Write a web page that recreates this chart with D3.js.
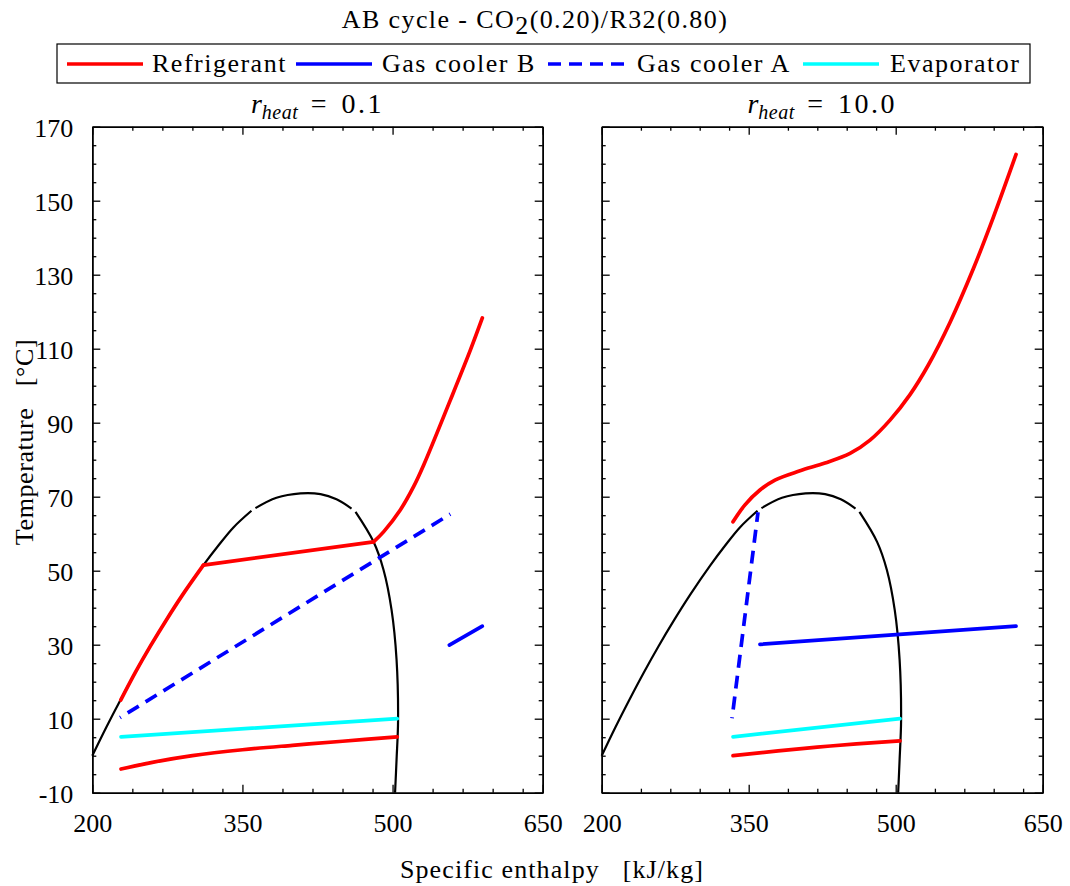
<!DOCTYPE html>
<html><head><meta charset="utf-8">
<script src="https://cdn.jsdelivr.net/npm/d3@7"></script>
<style>
body{margin:0;background:#fff;}
text{font-family:"Liberation Serif","Times New Roman",serif;fill:#000;}
</style></head>
<body>
<svg id="chart" width="1070" height="886"></svg>
<script>
// ---------- data ----------
const xMajorTicks = [200, 350, 500, 650];
const xMinorTicks = [240, 270, 300, 330, 390, 420, 450, 480, 540, 570, 600, 630];
const yMajorTicks = [-10, 10, 30, 50, 70, 90, 110, 130, 150, 170];
const yMinorTicks = [-5, 0, 5, 15, 20, 25, 35, 40, 45, 55, 60, 65, 75, 80, 85, 95, 100, 105, 115, 120, 125, 135, 140, 145, 155, 160, 165];

// saturation dome (drawn in three pieces)
const domeAH = [200, 214, 228, 243, 258, 274, 290, 311, 326, 341, 359];
const domeAT = [0, 7.7, 15, 22.5, 29.6, 36.7, 43.4, 51.5, 56.8, 61.7, 66.2];
const domeBH = [363, 384, 408, 428, 444, 459];
const domeBT = [66.9, 69.7, 70.9, 70.7, 69.3, 66.8];
const domeCH = [463, 481, 491, 499, 504, 505.5, 504, 502.5];
const domeCT = [65.9, 57.8, 50.2, 39.4, 25.9, 9.6, -1, -10];

// r_heat = 0.1
const l_refSubH = [228.4, 243, 258, 274, 290, 311];
const l_refSubT = [15, 22.5, 29.6, 36.7, 43.4, 51.5];
const l_refTwoH = [311, 481];
const l_refTwoT = [51.5, 57.8];
const l_refSupH = [481, 491, 507.7, 521, 531, 557.7, 577.7, 589.7];
const l_refSupT = [57.8, 60.5, 66.4, 72.7, 78.5, 96.1, 109.6, 118.3];
const l_refLowH = [228.7, 260, 300, 350, 400, 450, 504.7];
const l_refLowT = [-3.6, -1.8, 0, 1.6, 2.8, 3.9, 5.1];
const l_gcBH = [556.7, 589.7];
const l_gcBT = [29.9, 35];
const l_gcAH = [227.7, 557.7];
const l_gcAT = [10.3, 65.3];
const l_evapH = [228.7, 504.7];
const l_evapT = [5.1, 10];

// r_heat = 10.0
const r_refHighH = [334, 346.2, 361.5, 376.8, 402.4, 427.9, 453.4, 473.8, 494.2, 514.6, 533.3, 555.4, 579.2, 599.6, 622.8];
const r_refHighT = [63.2, 67.8, 71.8, 74.5, 77, 79.1, 81.7, 85.3, 90.7, 97.6, 105.6, 117.1, 131.6, 145.5, 162.5];
const r_refLowH = [334, 380, 420, 460, 504.4];
const r_refLowT = [0, 1.3, 2.3, 3.2, 4];
const r_gcBH = [361.5, 622.8];
const r_gcBT = [30.1, 35];
const r_gcAH = [333, 359.5];
const r_gcAT = [10.1, 65.8];
const r_evapH = [334, 504.4];
const r_evapT = [5.1, 10];

const legendLabels = ["Refrigerant", "Gas cooler B", "Gas cooler A", "Evaporator"];

// ---------- drawing ----------
const svg = d3.select("#chart");
const RED = "#ff0000", BLUE = "#0000ff", CYAN = "#00ffff";
const DASH = "13,8";
const y = d3.scaleLinear([-10, 170], [792.7, 126.7]);
const panels = [
  {x: d3.scaleLinear([200, 650], [92.3, 542.7]), title: "0.1", labels: true,
   series: [
     {h: l_evapH, t: l_evapT, c: CYAN},
     {h: l_gcAH, t: l_gcAT, c: BLUE, dash: true},
     {h: l_gcBH, t: l_gcBT, c: BLUE},
     {h: l_refSubH, t: l_refSubT, c: RED},
     {h: l_refTwoH, t: l_refTwoT, c: RED},
     {h: l_refSupH, t: l_refSupT, c: RED},
     {h: l_refLowH, t: l_refLowT, c: RED}
   ]},
  {x: d3.scaleLinear([200, 650], [601.7, 1042.7]), title: "10.0", labels: false,
   series: [
     {h: r_evapH, t: r_evapT, c: CYAN},
     {h: r_gcAH, t: r_gcAT, c: BLUE, dash: true},
     {h: r_gcBH, t: r_gcBT, c: BLUE},
     {h: r_refHighH, t: r_refHighT, c: RED},
     {h: r_refLowH, t: r_refLowT, c: RED}
   ]}
];

function zip(h, t) { return h.map((v, i) => [v, t[i]]); }
const fmt = d => String(d);

panels.forEach(p => {
  const x = p.x;
  const [x0, x1] = x.range();
  const [y0, y1] = y.range();
  const g = svg.append("g");

  const line = d3.line().x(d => x(d[0])).y(d => y(d[1])).curve(d3.curveCatmullRom.alpha(0.5));

  // dome
  [[domeAH, domeAT], [domeBH, domeBT], [domeCH, domeCT]].forEach(([h, t]) => {
    g.append("path").attr("d", line(zip(h, t)))
      .attr("fill", "none").attr("stroke", "#000").attr("stroke-width", 2.2);
  });

  p.series.forEach(s => {
    g.append("path").attr("d", line(zip(s.h, s.t)))
      .attr("fill", "none").attr("stroke", s.c).attr("stroke-width", 3.7)
      .attr("stroke-linecap", s.dash ? "butt" : "round")
      .attr("stroke-linejoin", "round")
      .attr("stroke-dasharray", s.dash ? DASH : null)
      .attr("stroke-dashoffset", s.dash ? 12 : null);
  });

  // axes
  const styleAxis = sel => {
    sel.select(".domain").attr("stroke", "#000").attr("stroke-width", 1.5);
    sel.selectAll(".tick line").attr("stroke", "#000").attr("stroke-width", 1.3);
    sel.selectAll("text").style("font-family", "'Liberation Serif', serif").style("font-size", "26px").attr("fill", "#000");
  };
  g.append("g").attr("transform", `translate(0,${y0})`)
    .call(d3.axisBottom(x).tickValues(xMajorTicks).tickSizeInner(-8).tickSizeOuter(0).tickPadding(21).tickFormat(fmt))
    .call(styleAxis);
  g.append("g").attr("transform", `translate(0,${y0})`)
    .call(d3.axisBottom(x).tickValues(xMinorTicks).tickSizeInner(-4).tickSizeOuter(0).tickFormat("")).call(styleAxis);
  g.append("g").attr("transform", `translate(0,${y1})`)
    .call(d3.axisTop(x).tickValues(xMajorTicks).tickSizeInner(-8).tickSizeOuter(0).tickFormat("")).call(styleAxis);
  g.append("g").attr("transform", `translate(0,${y1})`)
    .call(d3.axisTop(x).tickValues(xMinorTicks).tickSizeInner(-4).tickSizeOuter(0).tickFormat("")).call(styleAxis);
  const left = g.append("g").attr("transform", `translate(${x0},0)`)
    .call(d3.axisLeft(y).tickValues(yMajorTicks).tickSizeInner(-8).tickSizeOuter(0).tickPadding(19)
      .tickFormat(p.labels ? fmt : ""));
  styleAxis(left);
  left.selectAll("text").attr("dy", "0.36em");
  g.append("g").attr("transform", `translate(${x0},0)`)
    .call(d3.axisLeft(y).tickValues(yMinorTicks).tickSizeInner(-4).tickSizeOuter(0).tickFormat("")).call(styleAxis);
  g.append("g").attr("transform", `translate(${x1},0)`)
    .call(d3.axisRight(y).tickValues(yMajorTicks).tickSizeInner(-8).tickSizeOuter(0).tickFormat("")).call(styleAxis);
  g.append("g").attr("transform", `translate(${x1},0)`)
    .call(d3.axisRight(y).tickValues(yMinorTicks).tickSizeInner(-4).tickSizeOuter(0).tickFormat("")).call(styleAxis);

  // subplot title
  const tt = g.append("text").attr("x", (x0 + x1) / 2).attr("y", 113)
    .attr("text-anchor", "middle").style("font-size", "28px");
  tt.append("tspan").text("r").style("font-style", "italic");
  tt.append("tspan").text("heat").style("font-style", "italic").style("font-size", "20px")
    .style("letter-spacing", "0.5px").attr("dy", 6);
  tt.append("tspan").text(" = " + p.title).attr("dy", -6).style("letter-spacing", "2.5px")
    .style("word-spacing", "3px");
});

// main title
const title = svg.append("text").attr("x", 535).attr("y", 28).attr("text-anchor", "middle")
  .style("font-size", "26px").style("letter-spacing", "1.4px");
title.append("tspan").text("AB cycle - CO");
title.append("tspan").text("2").attr("dy", 6);
title.append("tspan").text("(0.20)/R32(0.80)").attr("dy", -6);

// legend
svg.append("rect").attr("x", 57).attr("y", 44).attr("width", 973).attr("height", 39)
  .attr("fill", "#fff").attr("stroke", "#000").attr("stroke-width", 1.2);
const legendItems = [
  {c: RED, x1: 67, x2: 143, tx: 152},
  {c: BLUE, x1: 296, x2: 372, tx: 382},
  {c: BLUE, x1: 548, x2: 624, tx: 637, dash: true},
  {c: CYAN, x1: 803, x2: 879, tx: 890}
];
legendItems.forEach((it, i) => {
  svg.append("line").attr("x1", it.x1).attr("x2", it.x2).attr("y1", 64).attr("y2", 64)
    .attr("stroke", it.c).attr("stroke-width", 3.7).attr("stroke-dasharray", it.dash ? DASH : null);
  svg.append("text").attr("x", it.tx).attr("y", 72).style("font-size", "26px")
    .style("letter-spacing", "1.5px").text(legendLabels[i]);
});

// axis labels
svg.append("text").attr("x", 552).attr("y", 878).attr("text-anchor", "middle").style("font-size", "26px")
  .style("white-space", "pre").style("letter-spacing", "1.1px").text("Specific enthalpy   [kJ/kg]");
svg.append("text").attr("transform", "translate(33,442) rotate(-90)").attr("text-anchor", "middle")
  .style("font-size", "26px").style("white-space", "pre").style("letter-spacing", "0.6px").text("Temperature   [°C]");
</script>
</body></html>
